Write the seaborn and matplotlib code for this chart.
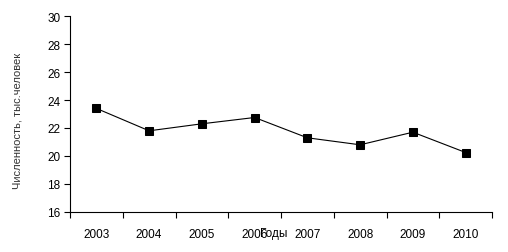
import matplotlib
matplotlib.use("Agg")
import matplotlib.pyplot as plt
import seaborn as sns
import pandas as pd
import numpy as np

years = ["2003", "2004", "2005", "2006", "2007", "2008", "2009", "2010"]
values = [23.4, 21.8, 22.3, 22.75, 21.3, 20.8, 21.7, 20.25]
y_ticks = [16, 18, 20, 22, 24, 26, 28, 30]

sns.set_style("white")
plt.rcParams['font.family'] = ['Liberation Sans', 'DejaVu Sans']

df = pd.DataFrame({"pos": np.arange(len(years)), "val": values})

fig = plt.figure(figsize=(5.08, 2.53), dpi=100)
ax = fig.add_axes([70/508, 40/253, 422/508, 196/253])
sns.lineplot(data=df, x="pos", y="val", ax=ax, color="black", linewidth=0.8,
             marker="s", markersize=5.5, markeredgecolor="black", markerfacecolor="black")

ax.set_xlim(-0.5, len(years) - 0.5)
ax.set_ylim(16, 30)
ax.set_yticks(y_ticks)
ax.set_yticklabels([str(t) for t in y_ticks], fontsize=8.5, color="black")

ax.set_xticks(np.arange(len(years) + 1) - 0.5)
ax.set_xticklabels([])
ax.set_xticks(np.arange(len(years)), minor=True)
ax.set_xticklabels(years, minor=True, fontsize=8.5, color="black")
ax.tick_params(axis='x', which='minor', bottom=True, length=0, pad=11.5)
ax.tick_params(axis='x', which='major', bottom=True, length=4, width=0.8,
               direction='out', color='black')
ax.tick_params(axis='y', which='major', left=True, length=4, width=0.8,
               direction='out', color='black', pad=3)

for s in ["top", "right"]:
    ax.spines[s].set_visible(False)
for s in ["left", "bottom"]:
    ax.spines[s].set_color("black")
    ax.spines[s].set_linewidth(0.8)

ax.set_xlabel("Годы", fontsize=8.5, color="black")
ax.xaxis.set_label_coords(0.482, -0.077)
ax.set_ylabel("Численность, тыс.человек", fontsize=8, color="#333333")
ax.yaxis.set_label_coords(-0.112, 0.47)

fig.savefig("out.png", dpi=100)
